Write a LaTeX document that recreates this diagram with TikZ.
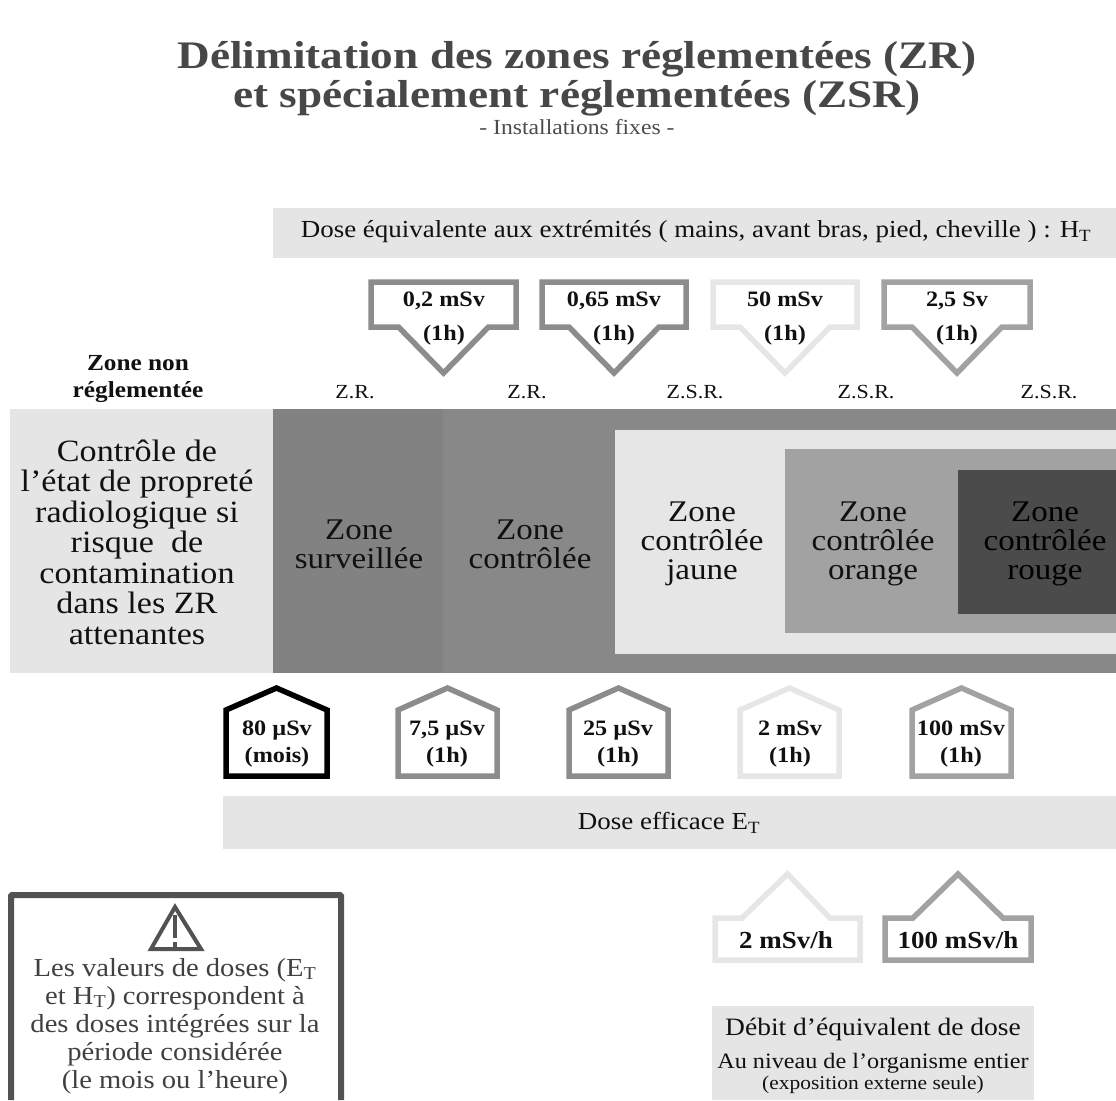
\documentclass[tikz,border=0pt]{standalone}
\usepackage{fontspec}
\setmainfont[FakeStretch=1.1]{Liberation Serif}
\newfontfamily\titlefont[FakeStretch=1.16]{Liberation Serif}
\newcommand{\fs}[1]{\fontsize{#1}{#1}\selectfont}
\newcommand{\sT}{\textsubscript{T}}
\definecolor{band}{HTML}{E5E5E5}
\definecolor{midg}{HTML}{8C8C8C}
\definecolor{palel}{HTML}{E6E6E6}
\definecolor{oranz}{HTML}{A2A2A2}
\definecolor{rouge}{HTML}{4B4B4B}
\definecolor{zonea}{HTML}{828282}
\definecolor{zoneb}{HTML}{888888}
\definecolor{ink}{HTML}{111111}
\tikzset{
  x=1pt,y=-1pt,
  txt/.style={inner sep=0pt,align=center,text=ink},
  title/.style={txt,text=black!72,font=\titlefont\fs{39}\bfseries,execute at begin node=\setlength{\baselineskip}{39pt}},
  zonetxt/.style={txt,font=\fs{30},execute at begin node=\setlength{\baselineskip}{29pt}},
  tagtxt/.style={txt,font=\fs{22}\bfseries,execute at begin node=\setlength{\baselineskip}{34pt}},
  housetxt/.style={txt,font=\fs{22}\bfseries,execute at begin node=\setlength{\baselineskip}{27pt}},
  ratetxt/.style={txt,font=\fs{24.5}\bfseries},
  zr/.style={txt,font=\fs{20}},
  badge/.style={line width=5.5pt,miter limit=10,fill=white,line join=miter},
}
\newcommand{\downtag}[3]{% left, right, colour
  \draw[badge,draw=#3] (#1+3,282) -- (#2-3,282) -- (#2-3,327) -- ({(#1+#2)/2+45},327) -- ({(#1+#2)/2},373) -- ({(#1+#2)/2-45},327) -- (#1+3,327) -- cycle;}
\newcommand{\house}[3]{%
  \draw[badge,draw=#3] (#1+3,776) -- (#1+3,710) -- ({(#1+#2)/2},688) -- (#2-3,710) -- (#2-3,776) -- cycle;}
\newcommand{\bighouse}[5]{% left right shL shR colour
  \draw[badge,draw=#5] (#1+3,960) -- (#1+3,918) -- (#3,918) -- ({(#1+#2)/2},874) -- (#4,918) -- (#2-3,918) -- (#2-3,960) -- cycle;}
\begin{document}
\begin{tikzpicture}
\useasboundingbox (0,0) rectangle (1116,1100);
% title
\node[title] (t1) at (577,79) {Délimitation des zones réglementées (ZR)\\et spécialement réglementées (ZSR)};
\node[txt,text=black!70,font=\fs{21.5}] (t2) at (577,127) {- Installations fixes -};
% top band
\fill[band] (273,208) rectangle (1116,258);
\node[txt,font=\fs{24.5}] (ht) at (696,232) {Dose équivalente aux extrémités ( mains, avant bras, pied, cheville ) : H\sT};
% down tags
\downtag{368}{519}{midg}
\downtag{539}{689}{midg}
\downtag{710}{860}{palel}
\downtag{881}{1033}{oranz}
\node[tagtxt] (d1) at (444,319) {0,2 mSv\\(1h)};
\node[tagtxt] (d2) at (614,319) {0,65 mSv\\(1h)};
\node[tagtxt] (d3) at (785,319) {50 mSv\\(1h)};
\node[tagtxt] (d4) at (957,319) {2,5 Sv\\(1h)};
% labels
\node[txt,font=\fs{23}\bfseries,execute at begin node=\setlength{\baselineskip}{27pt}] (znr) at (138,379) {Zone non\\réglementée};
\node[zr] (z1) at (355,392) {Z.R.};
\node[zr] (z2) at (527,392) {Z.R.};
\node[zr] (z3) at (695,392) {Z.S.R.};
\node[zr] (z4) at (866,392) {Z.S.R.};
\node[zr] (z5) at (1049,392) {Z.S.R.};
% zones
\fill[band] (10,409) rectangle (273,673);
\fill[zonea] (273,409) rectangle (443,673);
\fill[zoneb] (443,409) rectangle (1116,673);
\fill[palel] (615,430) rectangle (1116,654);
\fill[oranz] (785,449) rectangle (1116,633);
\fill[rouge] (958,470) rectangle (1116,614);
\node[zonetxt,font=\fs{31},execute at begin node=\setlength{\baselineskip}{30.5pt}] (ctl) at (137,542) {Contrôle de\\l’état de propreté\\radiologique si\\risque~ de\\contamination\\dans les ZR\\attenantes};
\node[zonetxt] (zs) at (359,544) {Zone\\surveillée};
\node[zonetxt] (zc) at (530,544) {Zone\\contrôlée};
\node[zonetxt] (zj) at (702,544) {Zone\\contrôlée\\jaune};
\node[zonetxt] (zo) at (873,544) {Zone\\contrôlée\\orange};
\node[zonetxt,text=black] (zr) at (1045,544) {Zone\\contrôlée\\rouge};
% houses
\house{223}{330}{black}
\house{395}{500}{midg}
\house{566}{671}{midg}
\house{737}{842}{palel}
\house{909}{1014}{oranz}
\node[housetxt] (h1) at (277,744) {80 µSv\\(mois)};
\node[housetxt] (h2) at (447,744) {7,5 µSv\\(1h)};
\node[housetxt] (h3) at (618,744) {25 µSv\\(1h)};
\node[housetxt] (h4) at (790,744) {2 mSv\\(1h)};
\node[housetxt] (h5) at (961,744) {100 mSv\\(1h)};
% efficace
\fill[band] (223,796) rectangle (1116,849);
\node[txt,font=\fs{24.5}] (et) at (669,823) {Dose efficace E\sT};
% warning
\draw[line width=6pt,draw=black!68,rounded corners=1pt] (11,1100) -- (11,895) -- (341,895) -- (341,1100);
\draw[line width=4pt,draw=black!68,line join=miter] (175,907) -- (201,949) -- (151,949) -- cycle;
\draw[line width=4pt,draw=black!68] (175,915) -- (175,938);
\fill[black!68] (173,942) rectangle (177,947);
\node[txt,text=black!75,font=\fs{26},execute at begin node=\setlength{\baselineskip}{28pt}] (warn) at (175,1026) {Les valeurs de doses (E\sT\\et H\sT) correspondent à\\des doses intégrées sur la\\période considérée\\(le mois ou l’heure)};
% debit
\bighouse{712}{863}{742}{830}{palel}
\bighouse{882}{1034}{913}{1003}{oranz}
\node[ratetxt] (b1) at (786,940) {2 mSv/h};
\node[ratetxt] (b2) at (958,940) {100 mSv/h};
\fill[band] (712,1006) rectangle (1034,1100);
\node[txt,font=\fs{25}] (dd) at (873,1029) {Débit d’équivalent de dose};
\node[txt,font=\fs{22},execute at begin node=\setlength{\baselineskip}{21pt}] (dd2) at (873,1073) {Au niveau de l’organisme entier\\{\fs{19.5}(exposition externe seule)}};
\end{tikzpicture}
\end{document}
